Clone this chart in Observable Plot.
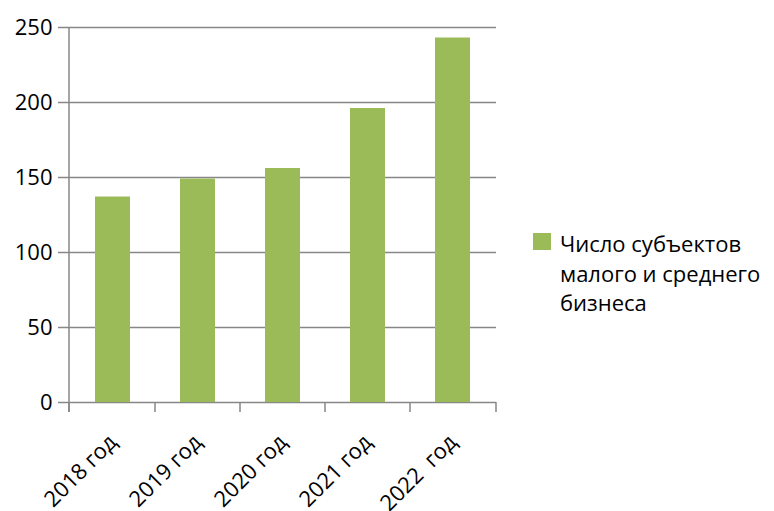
<!DOCTYPE html>
<html><head><meta charset="utf-8">
<script src="https://cdn.jsdelivr.net/npm/d3@7"></script>
<script src="https://cdn.jsdelivr.net/npm/@observablehq/plot@0.6"></script>
<style>
body{margin:0;background:#fff;font-family:"Open Sans",sans-serif;}
#wrap{position:relative;width:774px;height:511px;overflow:hidden;}
#wrap svg text{white-space:pre;}
#legend{position:absolute;left:533px;top:229px;font-family:"Open Sans",sans-serif;font-size:22px;line-height:29.5px;color:#000;}
#legend .sw{position:absolute;left:0;top:4px;width:18px;height:17px;}
#legend .lbl{margin-left:27px;white-space:nowrap;}
</style></head>
<body><div id="wrap"><div id="chart"></div><div id="legend"></div></div>
<script>
const categories = ["2018 год", "2019 год", "2020 год", "2021 год", "2022  год"];
const values = [137, 149, 156, 196, 243];
const yTicks = [0, 50, 100, 150, 200, 250];
const seriesLines = ["Число субъектов", "малого и среднего", "бизнеса"];
const barColor = "#9BBB59";
const gridColor = "#878787";

const data = categories.map((c, i) => ({cat: c, value: values[i]}));

function axisFrame(...args) {
  const scales = args.find(a => a && typeof a.x === "function" && typeof a.y === "function");
  const dims = args.find(a => a && typeof a.marginLeft === "number");
  const x = scales.x, y = scales.y;
  const bw = typeof x.bandwidth === "function" ? x.bandwidth() : (x.bandwidth || 0);
  const centers = categories.map(c => x(c) + bw / 2);
  const left = dims.marginLeft, right = dims.width - dims.marginRight;
  const bounds = [left];
  for (let i = 1; i < centers.length; i++) bounds.push((centers[i - 1] + centers[i]) / 2);
  bounds.push(right);
  const y0 = y(0), yTop = y(yTicks[yTicks.length - 1]);
  const g = d3.create("svg:g").attr("stroke", gridColor).attr("stroke-width", 1.5);
  g.append("line").attr("x1", left).attr("x2", left).attr("y1", yTop).attr("y2", y0 + 10);
  for (const b of bounds) g.append("line").attr("x1", b).attr("x2", b).attr("y1", y0).attr("y2", y0 + 10);
  return g.node();
}

const chart = Plot.plot({
  width: 510, height: 511,
  marginLeft: 69, marginRight: 14, marginTop: 27, marginBottom: 109,
  style: {fontFamily: "'Open Sans', sans-serif", fontSize: "22px", color: "#000", background: "#fff", overflow: "visible"},
  x: {domain: categories, paddingInner: 0.59, paddingOuter: 0.295, axis: null},
  y: {domain: [0, 250], axis: null},
  marks: [
    Plot.ruleY(yTicks, {stroke: gridColor, strokeWidth: 1.5, insetLeft: -11}),
    Plot.barY(data, {x: "cat", y: "value", fill: barColor}),
    axisFrame,
    Plot.axisY({ticks: yTicks, tickSize: 0, tickPadding: 17, fontSize: 22, fill: "#000", label: null}),
    Plot.text(data, {x: "cat", frameAnchor: "bottom", text: "cat", rotate: -45, textAnchor: "end", dx: 5, dy: 41, fontSize: 22, fill: "#000"})
  ]
});
document.getElementById("chart").appendChild(chart);

const legend = document.getElementById("legend");
const sw = document.createElement("span");
sw.className = "sw"; sw.style.background = barColor;
legend.appendChild(sw);
const lbl = document.createElement("div");
lbl.className = "lbl";
lbl.innerHTML = seriesLines.join("<br>");
legend.appendChild(lbl);
</script>
</body></html>
